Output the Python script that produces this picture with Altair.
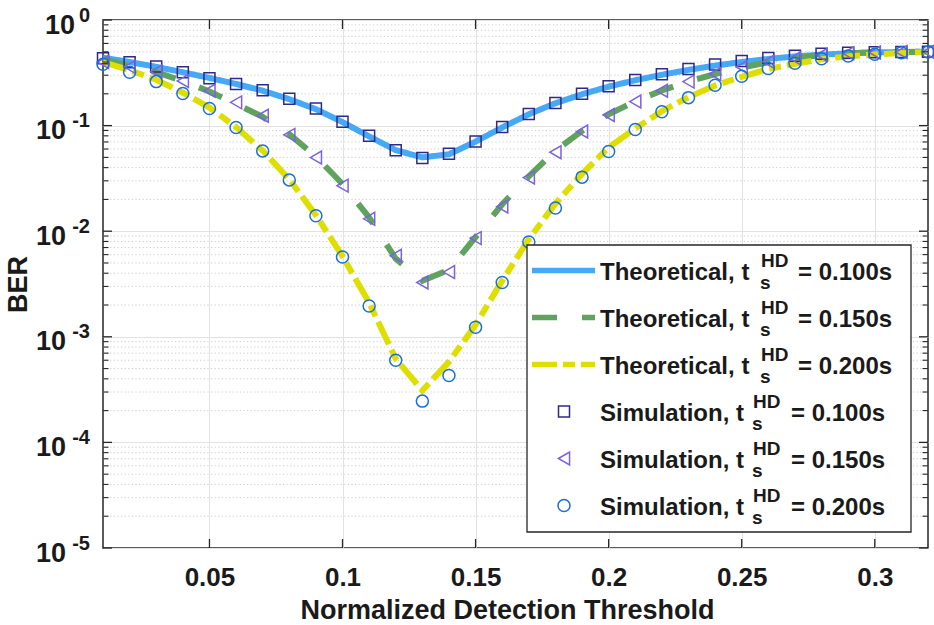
import altair as alt
import pandas as pd

# ---------------- data ----------------
threshold = [0.01, 0.02, 0.03, 0.04, 0.05, 0.06, 0.07, 0.08, 0.09, 0.10,
             0.11, 0.12, 0.13, 0.14, 0.15, 0.16, 0.17, 0.18, 0.19, 0.20,
             0.21, 0.22, 0.23, 0.24, 0.25, 0.26, 0.27, 0.28, 0.29, 0.30,
             0.31, 0.32]

theory_100 = [0.44, 0.40, 0.36, 0.32, 0.283, 0.248, 0.214, 0.178, 0.143, 0.108,
              0.079, 0.0585, 0.050, 0.0535, 0.0705, 0.096, 0.128, 0.163, 0.198, 0.234,
              0.269, 0.303, 0.337, 0.37, 0.40, 0.428, 0.452, 0.47, 0.484, 0.493,
              0.498, 0.50]
theory_150 = [0.42, 0.37, 0.32, 0.265, 0.21, 0.16, 0.121, 0.083, 0.051, 0.028,
              0.0135, 0.0055, 0.0034, 0.0043, 0.0088, 0.018, 0.033, 0.058, 0.089, 0.128,
              0.17, 0.215, 0.262, 0.308, 0.355, 0.398, 0.435, 0.465, 0.484, 0.494,
              0.498, 0.50]
theory_200 = [0.40, 0.335, 0.272, 0.205, 0.148, 0.097, 0.058, 0.031, 0.0142, 0.0058,
              0.0021, 0.00062, 0.00031, 0.00058, 0.0013, 0.0034, 0.0084, 0.0182, 0.035, 0.062,
              0.094, 0.137, 0.186, 0.24, 0.29, 0.343, 0.385, 0.425, 0.452, 0.472,
              0.488, 0.497]

sim_100 = [0.434, 0.398, 0.362, 0.32, 0.281, 0.248, 0.216, 0.18, 0.145, 0.109,
           0.080, 0.0585, 0.0494, 0.054, 0.0706, 0.097, 0.129, 0.164, 0.20, 0.236,
           0.271, 0.306, 0.344, 0.378, 0.409, 0.437, 0.459, 0.48, 0.49, 0.495,
           0.497, 0.50]
sim_150 = [0.40, 0.36, 0.325, 0.265, 0.214, 0.166, 0.124, 0.0817, 0.0498, 0.027,
           0.0131, 0.00585, 0.00327, 0.0041, 0.0086, 0.0171, 0.0322, 0.056, 0.0878, 0.126,
           0.169, 0.214, 0.261, 0.308, 0.359, 0.403, 0.434, 0.467, 0.484, 0.493,
           0.497, 0.50]
sim_200 = [0.381, 0.32, 0.261, 0.201, 0.145, 0.0958, 0.0576, 0.0306, 0.014, 0.00569,
           0.00196, 0.0006, 0.000246, 0.00043, 0.00123, 0.00327, 0.0079, 0.0166, 0.0325, 0.0568,
           0.0917, 0.135, 0.184, 0.241, 0.293, 0.347, 0.389, 0.43, 0.456, 0.473,
           0.49, 0.497]

x_ticks = [0.05, 0.1, 0.15, 0.2, 0.25, 0.3]
y_major = [1e-5, 1e-4, 1e-3, 1e-2, 1e-1, 1]
y_exponents = ["-5", "-4", "-3", "-2", "-1", "0"]
mantissas = [2, 3, 4, 5, 6, 7, 8, 9]
decades = [1e-5, 1e-4, 1e-3, 1e-2, 1e-1]
y_minor = [m * d for d in decades for m in mantissas]

legend_prefix = ["Theoretical, t", "Theoretical, t", "Theoretical, t",
                 "Simulation, t", "Simulation, t", "Simulation, t"]
legend_value = ["= 0.100s", "= 0.150s", "= 0.200s",
                "= 0.100s", "= 0.150s", "= 0.200s"]

# ---------------- styling ----------------
W, H = 825, 528
FONT = "Liberation Sans"
TXT = "#1a1a1a"
AX = "#262626"
line_colors = ["#45a9f6", "#5fa35f", "#dede00"]
line_dashes = [[1, 0], [25, 25], [25, 6, 12, 6]]
marker_colors = ["#2f2a85", "#7a62e0", "#1a6fd9"]
marker_shapes = ["square", "triangle-left", "circle"]
marker_sizes = [121, 165, 144]

xs = alt.Scale(domain=[0.01, 0.32], nice=False, zero=False)
ys = alt.Scale(type="log", domain=[1e-5, 1], nice=False)

x_axis = alt.Axis(values=x_ticks, format="~g", labelFont=FONT, labelFontSize=26,
                  labelFontWeight="bold", labelColor=TXT, ticks=False, tickSize=0,
                  domain=False, grid=True, gridColor="#e2e2e2", gridWidth=1,
                  labelPadding=16, title="Normalized Detection Threshold",
                  titleFont=FONT, titleFontSize=27, titleFontWeight="bold",
                  titleColor=TXT, titleX=404, titleY=70, titleBaseline="alphabetic")
y_axis = alt.Axis(values=y_major, labels=False, ticks=False, tickSize=0, domain=False,
                  grid=True, gridColor="#e2e2e2", gridWidth=1, title="BER",
                  titleFont=FONT, titleFontSize=27, titleFontWeight="bold",
                  titleColor=TXT, titleX=-77, titleY=264, titleBaseline="alphabetic",
                  titleAlign="center")


def X(field):
    return alt.X(field, type="quantitative", scale=xs, axis=x_axis)


def Y(field):
    return alt.Y(field, type="quantitative", scale=ys, axis=y_axis)


one = pd.DataFrame({"a": [0]})
layers = []

# minor dotted grid
minor_df = pd.DataFrame({"v": y_minor})
layers.append(alt.Chart(minor_df).mark_rule(color="#cdcdcd", strokeWidth=1,
                                            strokeDash=[1.2, 2.4]).encode(
    y=Y("v"), x=alt.value(0), x2=alt.value(W)))

# theoretical lines
theories = [theory_100, theory_150, theory_200]
for i, th in enumerate(theories):
    df = pd.DataFrame({"x": threshold, "ber": th})
    layers.append(alt.Chart(df).mark_line(color=line_colors[i], strokeWidth=6,
                                          strokeDash=line_dashes[i]).encode(
        x=X("x"), y=Y("ber")))

# simulation markers
sims = [sim_100, sim_150, sim_200]
for i, sm in enumerate(sims):
    df = pd.DataFrame({"x": threshold, "ber": sm})
    layers.append(alt.Chart(df).mark_point(shape=marker_shapes[i], size=marker_sizes[i],
                                           filled=False, color=marker_colors[i],
                                           strokeWidth=1.5, opacity=1).encode(
        x=X("x"), y=Y("ber")))

# inward ticks
xt_df = pd.DataFrame({"v": x_ticks})
for y0, y1 in [(H, H - 9), (0, 9)]:
    layers.append(alt.Chart(xt_df).mark_rule(color=AX, strokeWidth=1.3).encode(
        x=X("v"), y=alt.value(y0), y2=alt.value(y1)))
ymaj_df = pd.DataFrame({"v": y_major, "e": y_exponents})
for x0, x1 in [(0, 9), (W - 9, W)]:
    layers.append(alt.Chart(ymaj_df).mark_rule(color=AX, strokeWidth=1.3).encode(
        y=Y("v"), x=alt.value(x0), x2=alt.value(x1)))
for x0, x1 in [(0, 5.5), (W - 5.5, W)]:
    layers.append(alt.Chart(minor_df).mark_rule(color=AX, strokeWidth=1.1).encode(
        y=Y("v"), x=alt.value(x0), x2=alt.value(x1)))

# y tick labels 10^k
base_zero = alt.Chart(ymaj_df).transform_filter("datum.e == '0'")
base_neg = alt.Chart(ymaj_df).transform_filter("datum.e != '0'")
for base, xr in [(base_zero, -28), (base_neg, -37)]:
    layers.append(base.mark_text(text="10", align="right", baseline="alphabetic",
                                 dy=13.5, font=FONT, fontSize=27, fontWeight="bold",
                                 color=TXT).encode(y=Y("v"), x=alt.value(xr)))
layers.append(alt.Chart(ymaj_df).mark_text(align="right", baseline="alphabetic", dy=1.5,
                                           font=FONT, fontSize=20, fontWeight="bold",
                                           color=TXT).encode(
    y=Y("v"), x=alt.value(-13), text="e:N"))

# custom legend
layers.append(alt.Chart(one).mark_rect(fill="white", stroke=AX, strokeWidth=1.3).encode(
    x=alt.value(424), x2=alt.value(808), y=alt.value(225), y2=alt.value(512)))

for r in range(6):
    base_y = 260 + 47 * r
    mid = base_y - 9.5
    if r < 3:
        layers.append(alt.Chart(one).mark_rule(color=line_colors[r], strokeWidth=5.7,
                                               strokeDash=line_dashes[r]).encode(
            x=alt.value(429), x2=alt.value(492), y=alt.value(mid)))
        hd_x, val_x = 658, 695
    else:
        k = r - 3
        layers.append(alt.Chart(one).mark_point(shape=marker_shapes[k], size=marker_sizes[k],
                                                filled=False, color=marker_colors[k],
                                                strokeWidth=1.5, opacity=1).encode(
            x=alt.value(461), y=alt.value(mid)))
        hd_x, val_x = 650, 688
    layers.append(alt.Chart(one).mark_text(text=legend_prefix[r], align="left",
                                           baseline="alphabetic", font=FONT, fontSize=24,
                                           fontWeight="bold", color=TXT).encode(
        x=alt.value(497), y=alt.value(base_y)))
    layers.append(alt.Chart(one).mark_text(text="HD", align="left", baseline="alphabetic",
                                           font=FONT, fontSize=19, fontWeight="bold",
                                           color=TXT).encode(
        x=alt.value(hd_x), y=alt.value(base_y - 13)))
    layers.append(alt.Chart(one).mark_text(text="s", align="left", baseline="alphabetic",
                                           font=FONT, fontSize=19, fontWeight="bold",
                                           color=TXT).encode(
        x=alt.value(hd_x - 1), y=alt.value(base_y + 9)))
    layers.append(alt.Chart(one).mark_text(text=legend_value[r], align="left",
                                           baseline="alphabetic", font=FONT, fontSize=24,
                                           fontWeight="bold", color=TXT).encode(
        x=alt.value(val_x), y=alt.value(base_y)))

chart = alt.layer(*layers).properties(
    width=W, height=H,
    autosize=alt.AutoSizeParams(type="none"),
    padding={"left": 103, "top": 20, "right": 6, "bottom": 77},
    background="white",
).configure_view(stroke=AX, strokeWidth=1.5)

chart.save("out.html", embed_options={"renderer": "svg", "actions": False})
